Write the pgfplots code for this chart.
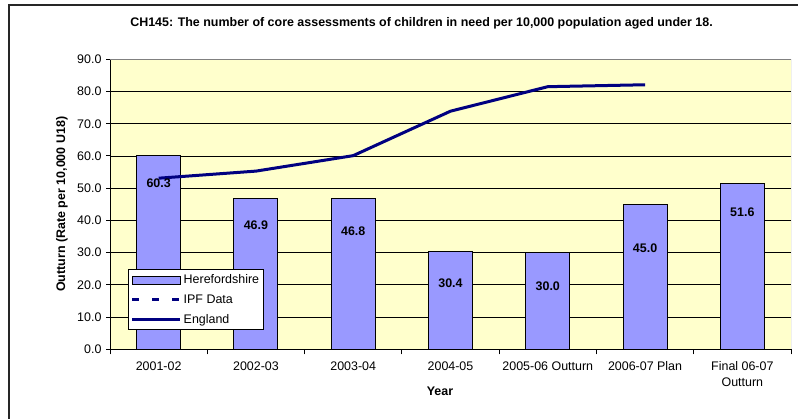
\documentclass[border=0pt]{standalone}
\usepackage{fontspec}
\setmainfont{Liberation Sans}
\usepackage{pgfplots}
\pgfplotsset{compat=1.18}
\definecolor{bgc}{HTML}{FFFFCC}
\definecolor{barc}{HTML}{9999FF}
\definecolor{navyc}{HTML}{000080}
\begin{document}
\begin{tikzpicture}
\useasboundingbox (0bp,0bp) rectangle (798bp,419bp);
\draw[line width=1.2bp, black!85] (9bp,-5bp) -- (9bp,414bp) -- (805bp,414bp);
\node[font=\bfseries\fontsize{12.5}{14}\selectfont] at (421.5bp,396bp) {CH145: The number of core assessments of children in need per 10,000 population aged under 18.};
\begin{axis}[
  at={(110bp,69.7bp)}, anchor=south west,
  width=681bp, height=290bp, scale only axis,
  xmin=-0.5, xmax=6.5, ymin=0, ymax=90,
  axis x line*=bottom, axis y line*=left,
  axis line style={black, line width=1bp},
  axis background/.style={fill=bgc},
  ytick={0,10,...,90},
  ymajorgrids, grid style={black, line width=0.8bp},
  xtick={0,...,6},
  xticklabels={2001-02,2002-03,2003-04,2004-05,2005-06 Outturn,2006-07 Plan,{Final 06-07\\Outturn}},
  minor xtick={-0.5,0.5,...,6.5},
  major x tick style={draw=none},
  minor x tick style={black, line width=1bp},
  y tick style={black, line width=1bp},
  tick align=outside,
  major tick length=4bp, minor tick length=5bp,
  xticklabel style={font=\fontsize{12.5}{16}\selectfont, align=center, anchor=north, yshift=-5bp},
  yticklabel style={font=\fontsize{12.5}{14}\selectfont, xshift=-1bp, /pgf/number format/.cd, fixed, fixed zerofill, precision=1},
  /pgf/number format/assume math mode=true,
  ylabel={\textbf{Outturn (Rate per 10,000 U18)}},
  ylabel style={font=\fontsize{12.5}{14}\selectfont, at={(rel axis cs:-0.0705,0.5)}, anchor=center},
  xlabel={\textbf{Year}},
  xlabel style={font=\fontsize{12.5}{14}\selectfont, at={(rel axis cs:0.4846,-0.1438)}, anchor=center},
  legend style={at={(rel axis cs:0.026,0.276)}, anchor=north west, draw=black, line width=1bp, fill=white,
    font=\fontsize{12.5}{14}\selectfont, inner xsep=2.5bp, inner ysep=3bp, row sep=5.5bp, cells={anchor=west}},
  legend cell align=left,
  legend image code/.code={\draw[#1] (0bp,0bp) -- (48bp,0bp);},
]
\addplot[ybar, bar width=44bp, fill=barc, draw=black, line width=1bp,
  legend image code/.code={\draw[fill=barc,draw=black,line width=1bp] (0bp,-4bp) rectangle (48bp,4bp);}]
  coordinates {(0,60.3) (1,46.9) (2,46.8) (3,30.4) (4,30.0) (5,45.0) (6,51.6)};
\addlegendentry{Herefordshire}
\addlegendimage{navyc, line width=3bp, dash pattern=on 6.5bp off 13.5bp}
\addlegendentry{IPF Data}
\addplot[navyc, line width=3bp, line join=round, mark=none]
  coordinates {(0,53.1) (1,55.3) (2,60.1) (3,73.9) (4,81.5) (5,82.1)};
\addlegendentry{England}
\draw[gray, line width=1bp] (rel axis cs:0,1) -- (rel axis cs:1,1) -- (rel axis cs:1,0);
\begin{scope}[font=\bfseries\fontsize{12.5}{14}\selectfont]
\node at (axis cs:0,51.6) {60.3};
\node at (axis cs:1,38.4) {46.9};
\node at (axis cs:2,36.5) {46.8};
\node at (axis cs:3,20.6) {30.4};
\node at (axis cs:4,19.7) {30.0};
\node at (axis cs:5,31.3) {45.0};
\node at (axis cs:6,42.6) {51.6};
\end{scope}
\end{axis}
\end{tikzpicture}
\end{document}
